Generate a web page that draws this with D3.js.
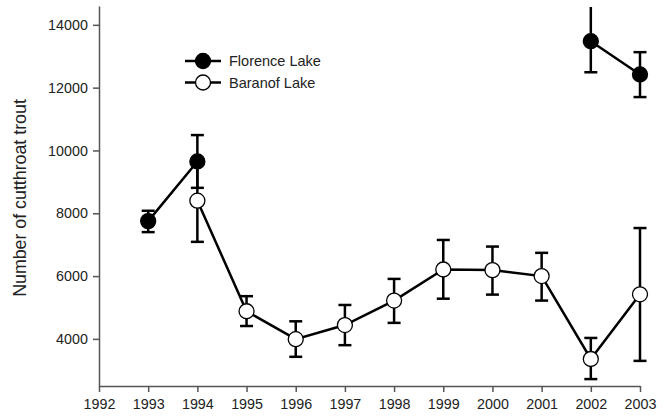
<!DOCTYPE html>
<html><head><meta charset="utf-8">
<script src="https://cdn.jsdelivr.net/npm/d3@7"></script>
<style>body{margin:0;background:#fff}svg{display:block}text{font-family:"Liberation Sans",Arial,sans-serif;fill:#222}</style>
</head><body><svg id="c" width="665" height="417"></svg>
<script>
const years = [1993,1994,1995,1996,1997,1998,1999,2000,2001,2002,2003];
const florence = [7750,9650,null,null,null,null,null,null,null,13480,12420];
const florenceLo = [7400,8810,null,null,null,null,null,null,null,12490,11700];
const florenceHi = [8080,10490,null,null,null,null,null,null,null,14700,13130];
const baranof = [null,8400,4880,3990,4440,5220,6210,6190,6000,3360,5420];
const baranofLo = [null,7090,4410,3430,3800,4510,5280,5410,5220,2720,3300];
const baranofHi = [null,9700,5360,4560,5080,5910,7150,6940,6740,4030,7530];
const xTicks = [1992,1993,1994,1995,1996,1997,1998,1999,2000,2001,2002,2003];
const yTicks = [4000,6000,8000,10000,12000,14000];
const seriesNames = ["Florence Lake","Baranof Lake"];

const svg = d3.select("#c");
const m = {l:99, t:6, r:25, b:31};
const W = 665, H = 417;
const x = d3.scaleLinear().domain([1992,2003]).range([m.l, W-m.r]);
const y = d3.scaleLinear().domain([2500,14600]).range([H-m.b, m.t]);

svg.append("defs").append("clipPath").attr("id","plot")
  .append("rect").attr("x",0).attr("y",m.t+1).attr("width",W).attr("height",H);

const axisCol = "#555";
const gx = svg.append("g").attr("transform",`translate(0,${H-m.b})`)
  .call(d3.axisBottom(x).tickValues(xTicks).tickFormat(d3.format("d")).tickSize(6).tickSizeOuter(0));
const gy = svg.append("g").attr("transform",`translate(${m.l},0)`)
  .call(d3.axisLeft(y).tickValues(yTicks).tickFormat(d3.format("d")).tickSize(6).tickSizeOuter(0));
[gx,gy].forEach(g=>{
  g.select(".domain").attr("stroke",axisCol).attr("stroke-width",1.5);
  g.selectAll(".tick line").attr("stroke",axisCol).attr("stroke-width",1.5);
  g.selectAll(".tick text").style("font-size","14.3px").attr("fill","#222");
});
gx.selectAll(".tick text").attr("dy","1.0em");
gy.selectAll(".tick text").attr("dx","-0.15em");

svg.append("text").attr("transform",`translate(26,${(m.t+H-m.b)/2+2}) rotate(-90)`)
  .attr("text-anchor","middle").style("font-size","17.8px").text("Number of cutthroat trout");

function draw(vals, lo, hi, filled){
  const pts = years.map((yr,i)=>({yr, v:vals[i], lo:lo[i], hi:hi[i]})).filter(d=>d.v!=null);
  const g = svg.append("g").attr("clip-path","url(#plot)");
  pts.forEach(d=>{
    const x0 = x(d.yr), yt = y(d.hi), yb = y(d.lo);
    g.append("line").attr("x1",x0).attr("x2",x0).attr("y1",yt).attr("y2",yb).attr("stroke","#000").attr("stroke-width",2.5);
    [yt,yb].forEach(yy=>g.append("line").attr("x1",x0-6.5).attr("x2",x0+6.5).attr("y1",yy).attr("y2",yy).attr("stroke","#000").attr("stroke-width",2.5));
  });
  const line = d3.line().defined(d=>d.v!=null).x(d=>x(d.yr)).y(d=>y(d.v));
  g.append("path").datum(years.map((yr,i)=>({yr,v:vals[i]})))
    .attr("d",line).attr("fill","none").attr("stroke","#000").attr("stroke-width",2.5);
  g.selectAll("circle").data(pts).join("circle")
    .attr("cx",d=>x(d.yr)).attr("cy",d=>y(d.v)).attr("r",7.5)
    .attr("fill",filled?"#000":"#fff").attr("stroke","#000").attr("stroke-width",1.3);
}
draw(florence, florenceLo, florenceHi, true);
draw(baranof, baranofLo, baranofHi, false);

// legend
const leg = svg.append("g");
seriesNames.forEach((name,i)=>{
  const ly = 61 + i*21.5;
  leg.append("line").attr("x1",185).attr("x2",221).attr("y1",ly).attr("y2",ly).attr("stroke","#000").attr("stroke-width",2.5);
  leg.append("circle").attr("cx",203).attr("cy",ly).attr("r",7.5).attr("fill",i===0?"#000":"#fff").attr("stroke","#000").attr("stroke-width",1.3);
  leg.append("text").attr("x",229).attr("y",ly).attr("dy","0.36em").style("font-size","14.5px").text(name);
});
</script></body></html>
